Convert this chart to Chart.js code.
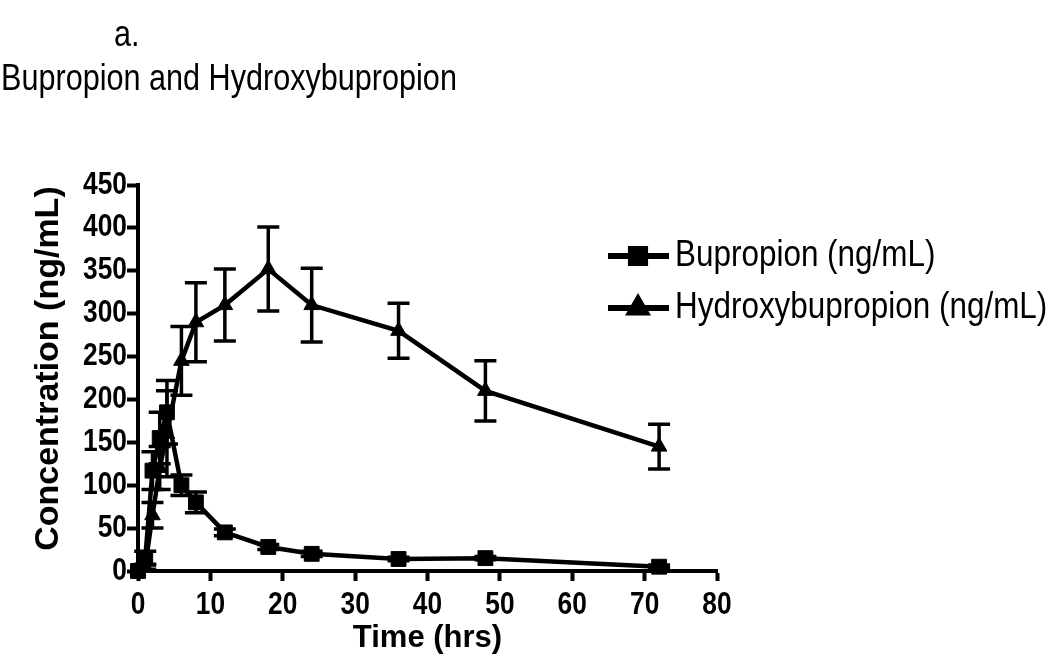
<!DOCTYPE html>
<html>
<head>
<meta charset="utf-8">
<title>Bupropion and Hydroxybupropion</title>
<script src="https://cdn.jsdelivr.net/npm/chart.js@4.4.1/dist/chart.umd.min.js"></script>
<style>
  body { margin: 0; background: #fff; }
  canvas { display: block; }
</style>
</head>
<body>
<canvas id="pkChart" width="1050" height="665"></canvas>
<script>
// sampling times (hrs)
const times = [0, 1, 2, 3, 4, 6, 8, 12, 18, 24, 36, 48, 72];

// mean concentrations (ng/mL) and error bar half-lengths
const bupropion = [0, 15, 117, 155, 185, 100, 80, 45, 28, 20, 14, 15, 5];
const bupropionErr = [0, 8, 22, 30, 37, 12, 12, 4, 3, 3, 2, 2, 2];
const hydroxy = [0, 5, 65, 120, 160, 245, 290, 310, 352, 310, 280, 210, 145];
const hydroxyErr = [0, 3, 15, 25, 50, 40, 46, 42, 49, 43, 32, 35, 26];

const seriesNames = ['Bupropion (ng/mL)', 'Hydroxybupropion (ng/mL)'];
const xTicks = [0, 10, 20, 30, 40, 50, 60, 70, 80];
const yTicks = [0, 50, 100, 150, 200, 250, 300, 350, 400, 450];

const FONT = 'Liberation Sans, Arial, Helvetica, sans-serif';
const SQUEEZE = 0.85; // the original figure's text is a bit condensed

function toPoints(values) {
    return times.map((t, i) => ({ x: t, y: values[i] }));
}

// draw text squeezed horizontally
function squeezeText(ctx, text, x, y, align) {
    ctx.save();
    ctx.translate(x, y);
    ctx.scale(SQUEEZE, 1);
    ctx.textAlign = align;
    ctx.fillText(text, 0, 0);
    ctx.restore();
}

// vertical error bars with caps, drawn through the chart scales
const errorBars = {
    id: 'errorBars',
    afterDatasetsDraw(chart) {
        const ctx = chart.ctx;
        const xs = chart.scales.x;
        const ys = chart.scales.y;
        const errs = [bupropionErr, hydroxyErr];
        const vals = [bupropion, hydroxy];
        ctx.save();
        ctx.strokeStyle = '#000';
        ctx.lineWidth = 3.5;
        errs.forEach((err, d) => {
            err.forEach((e, i) => {
                if (!e) return;
                const px = xs.getPixelForValue(times[i]);
                const top = ys.getPixelForValue(vals[d][i] + e);
                const bot = ys.getPixelForValue(vals[d][i] - e);
                ctx.beginPath();
                ctx.moveTo(px, top);
                ctx.lineTo(px, bot);
                ctx.moveTo(px - 11, top);
                ctx.lineTo(px + 11, top);
                ctx.moveTo(px - 11, bot);
                ctx.lineTo(px + 11, bot);
                ctx.stroke();
            });
        });
        ctx.restore();
    }
};

// tick labels, headings and the legend
const extras = {
    id: 'extras',
    afterDraw(chart) {
        const ctx = chart.ctx;
        const xs = chart.scales.x;
        const ys = chart.scales.y;
        ctx.save();
        ctx.fillStyle = '#000';
        ctx.textBaseline = 'middle';

        ctx.font = 'bold 31px ' + FONT;
        xs.ticks.forEach(t => squeezeText(ctx, String(t.value), xs.getPixelForValue(t.value), 605, 'center'));
        ys.ticks.forEach(t => squeezeText(ctx, String(t.value), 127, ys.getPixelForValue(t.value), 'right'));

        ctx.font = '36px ' + FONT;
        squeezeText(ctx, 'a.', 114, 36, 'left');
        squeezeText(ctx, 'Bupropion and Hydroxybupropion', 1, 80, 'left');

        const rows = [
            { y: 256, style: 'rect', r: 10 },
            { y: 308, style: 'triangle', r: 9 }
        ];
        ctx.font = '37px ' + FONT;
        rows.forEach((row, i) => {
            ctx.strokeStyle = '#000';
            ctx.lineWidth = 6;
            ctx.beginPath();
            ctx.moveTo(608, row.y);
            ctx.lineTo(669, row.y);
            ctx.stroke();
            Chart.helpers.drawPoint(ctx, { pointStyle: row.style, radius: row.r, borderWidth: 1 }, 638, row.y);
            ctx.fill();
            squeezeText(ctx, seriesNames[i], 675, row.y, 'left');
        });
        ctx.restore();
    }
};

document.addEventListener('DOMContentLoaded', function () {
    const ctx = document.getElementById('pkChart').getContext('2d');
    ctx.fillStyle = '#000';

    const lineStyle = {
        borderColor: '#000',
        backgroundColor: '#000',
        pointBorderColor: '#000',
        pointBackgroundColor: '#000',
        borderWidth: 4.5,
        pointBorderWidth: 1,
        tension: 0,
        clip: false
    };

    new Chart(ctx, {
        type: 'line',
        data: {
            datasets: [
                Object.assign({ label: seriesNames[0], data: toPoints(bupropion), pointStyle: 'rect', pointRadius: 10.5 }, lineStyle),
                Object.assign({ label: seriesNames[1], data: toPoints(hydroxy), pointStyle: 'triangle', pointRadius: 9 }, lineStyle)
            ]
        },
        options: {
            responsive: false,
            animation: false,
            layout: { padding: { top: 185, right: 333, left: 0, bottom: 0 } },
            plugins: {
                legend: { display: false },
                tooltip: { enabled: false }
            },
            scales: {
                x: {
                    type: 'linear',
                    min: 0,
                    max: 80,
                    afterFit: s => { s.height = 94; },
                    afterBuildTicks: s => { s.ticks = xTicks.map(v => ({ value: v })); },
                    grid: { drawOnChartArea: false, drawTicks: true, tickLength: 10, tickWidth: 4, tickColor: '#000' },
                    border: { display: true, width: 4, color: '#000' },
                    ticks: { display: false },
                    title: {
                        display: true,
                        text: 'Time (hrs)',
                        color: '#000',
                        padding: { top: 0, bottom: 8 },
                        font: { family: FONT, size: 31, weight: 'bold' }
                    }
                },
                y: {
                    type: 'linear',
                    min: 0,
                    max: 450,
                    afterFit: s => { s.width = 138; },
                    afterBuildTicks: s => { s.ticks = yTicks.map(v => ({ value: v })); },
                    grid: { drawOnChartArea: false, drawTicks: true, tickLength: 11, tickWidth: 4, tickColor: '#000' },
                    border: { display: true, width: 4, color: '#000' },
                    ticks: { display: false },
                    title: {
                        display: true,
                        text: '  Concentration (ng/mL)',
                        color: '#000',
                        padding: { top: 28, bottom: 0 },
                        font: { family: FONT, size: 34, weight: 'bold' }
                    }
                }
            }
        },
        plugins: [errorBars, extras]
    });
});
</script>
</body>
</html>
